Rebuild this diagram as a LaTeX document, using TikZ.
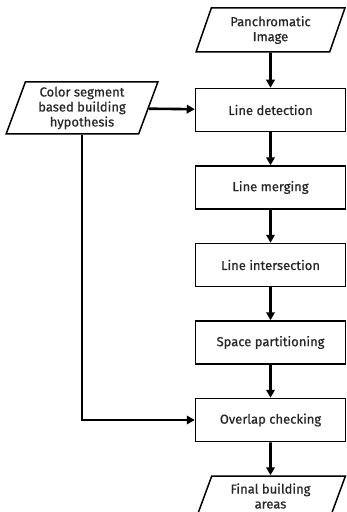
\documentclass[tikz,border=0pt]{standalone}
\usepackage{fontspec}
\setmainfont{Fira Sans}[FakeBold=0.6]
\usetikzlibrary{positioning,shapes.geometric,arrows.meta}

\begin{document}
\begin{tikzpicture}[x=1pt,y=1pt,node distance=33pt]
  \useasboundingbox (0,0) rectangle (347,512);
  \tikzstyle{every node}=[font=\fontsize{13}{15}\selectfont,align=center,line width=1.5pt,text=black!85]
  \tikzstyle{procbox}=[draw=black,minimum width=150pt,minimum height=43pt]
  \tikzstyle{databox}=[draw=black,trapezium,trapezium stretches=true,
    trapezium left angle=72,trapezium right angle=108]
  \tikzstyle{flow}=[line width=2.6pt,-{Triangle[length=8pt,width=8.5pt]}]
  % input and processing chain
  \node[databox,minimum width=149pt,minimum height=44pt] (pan) at (270.5,482) {Panchromatic\\Image};
  \node[procbox,below=35pt of pan] (detect) {Line detection};
  \node[procbox,below=of detect] (merge) {Line merging};
  \node[procbox,below=of merge] (inter) {Line intersection};
  \node[procbox,below=of inter] (part) {Space partitioning};
  \node[procbox,below=of part] (overlap) {Overlap checking};
  \node[databox,minimum width=150pt,minimum height=44pt,below=of overlap] (final)
    {\raisebox{3pt}{\begin{tabular}{@{}c@{}}Final building\\areas\end{tabular}}};
  % building hypothesis
  \node[databox,minimum width=152pt,minimum height=52pt] (color) at (82,404) {Color segment\\based building\\hypothesis};
  \draw[flow] (pan) -- (detect);
  \draw[flow] (detect) -- (merge);
  \draw[flow] (merge) -- (inter);
  \draw[flow] (inter) -- (part);
  \draw[flow] (part) -- (overlap);
  \draw[flow] (overlap) -- (final);
  \draw[flow] (color) -- (detect);
  \draw[flow] (color.south) |- (overlap.west);
\end{tikzpicture}
\end{document}
